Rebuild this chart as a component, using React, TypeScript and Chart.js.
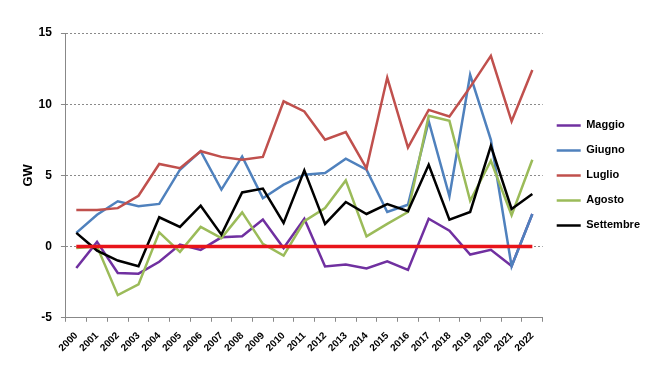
import React, { useEffect, useRef } from "react";
import { Chart, registerables } from "chart.js";

Chart.register(...registerables);

const years = ["2000","2001","2002","2003","2004","2005","2006","2007","2008","2009","2010","2011","2012","2013","2014","2015","2016","2017","2018","2019","2020","2021","2022"];
const maggio = [-1.5, 0.33, -1.85, -1.9, -1.07, 0.14, -0.23, 0.65, 0.72, 1.9, -0.1, 1.96, -1.4, -1.26, -1.54, -1.03, -1.64, 1.96, 1.12, -0.56, -0.23, -1.36, 2.29];
const giugno = [0.96, 2.24, 3.18, 2.83, 3.0, 5.4, 6.7, 4.0, 6.33, 3.4, 4.35, 5.05, 5.16, 6.17, 5.4, 2.43, 2.94, 8.8, 3.53, 12.06, 7.5, -1.38, 2.29];
const luglio = [2.57, 2.57, 2.7, 3.57, 5.8, 5.5, 6.7, 6.3, 6.1, 6.3, 10.2, 9.49, 7.5, 8.04, 5.5, 11.87, 6.96, 9.6, 9.14, 11.2, 13.4, 8.8, 12.4];
const agosto = [-0.1, 0.0, -3.41, -2.66, 1.0, -0.37, 1.38, 0.6, 2.4, 0.19, -0.63, 1.78, 2.71, 4.65, 0.72, 1.6, 2.43, 9.18, 8.83, 3.22, 6.03, 2.2, 6.1];
const settembre = [0.96, -0.28, -0.98, -1.38, 2.06, 1.38, 2.87, 0.84, 3.8, 4.07, 1.66, 5.35, 1.59, 3.13, 2.29, 2.99, 2.48, 5.75, 1.89, 2.43, 7.08, 2.64, 3.69];
const zeroLine = years.map(() => 0);
const yTicks = [-5, 0, 5, 10, 15];

const FONT = "'Liberation Sans', Arial, sans-serif";

export default function App() {
  const ref = useRef<HTMLCanvasElement | null>(null);
  useEffect(() => {
    if (!ref.current) return;
    const mk = (label: string, data: number[], color: string, order: number, width = 2.5) => ({
      label,
      data,
      borderColor: color,
      backgroundColor: color,
      borderWidth: width,
      pointRadius: 0,
      pointHoverRadius: 0,
      tension: 0,
      fill: false,
      order,
    });
    const chart = new Chart(ref.current, {
      type: "line",
      data: {
        labels: years,
        datasets: [
          mk("Maggio", maggio, "#7030A0", 5),
          mk("Giugno", giugno, "#4F81BD", 4),
          mk("Luglio", luglio, "#C0504D", 3),
          mk("Agosto", agosto, "#9BBB59", 2),
          mk("Settembre", settembre, "#000000", 1),
          mk("zero", zeroLine, "#E8141A", 0, 3.5),
        ],
      },
      options: {
        animation: false,
        responsive: true,
        maintainAspectRatio: false,
        layout: { padding: { left: 21, right: 0, top: 33, bottom: 22 } },
        plugins: {
          tooltip: { enabled: false },
          legend: {
            position: "right",
            fullSize: false,
            labels: {
              usePointStyle: true,
              pointStyle: "line",
              pointStyleWidth: 24,
              boxHeight: 11,
              padding: 14,
              color: "#000",
              font: { family: FONT, size: 11, weight: "bold" },
              filter: (item) => item.text !== "zero",
              sort: (a, b) => (a.datasetIndex ?? 0) - (b.datasetIndex ?? 0),
            },
          },
        },
        scales: {
          x: {
            offset: true,
            grid: {
              offset: true,
              drawOnChartArea: false,
              drawTicks: true,
              tickLength: 4,
              color: "#888",
            },
            border: { display: true, color: "#888", width: 1 },
            ticks: {
              color: "#000",
              maxRotation: 45,
              minRotation: 45,
              autoSkip: false,
              padding: 8,
              font: { family: FONT, size: 10, weight: "bold" },
            },
          },
          y: {
            min: -5,
            max: 15,
            afterBuildTicks: (axis) => {
              axis.ticks = yTicks.map((v) => ({ value: v }));
            },
            grid: {
              color: (ctx) => (ctx.tick && ctx.tick.value === -5 ? "rgba(0,0,0,0)" : "#8a8a8a"),
              tickColor: "#888",
              tickLength: 5,
              lineWidth: 1,
            },
            border: { display: true, color: "#888", width: 1, dash: [2, 2] },
            ticks: {
              color: "#000",
              padding: 9,
              font: { family: FONT, size: 12, weight: "bold" },
            },
            title: {
              display: true,
              text: "GW",
              color: "#000",
              padding: { top: 0, bottom: -7 },
              font: { family: FONT, size: 13, weight: "bold" },
            },
          },
        },
      },
    });
    return () => chart.destroy();
  }, []);
  return (
    <div style={{ position: "fixed", left: 0, top: 0, width: 650, height: 384, background: "#fff" }}>
      <canvas ref={ref} />
    </div>
  );
}
